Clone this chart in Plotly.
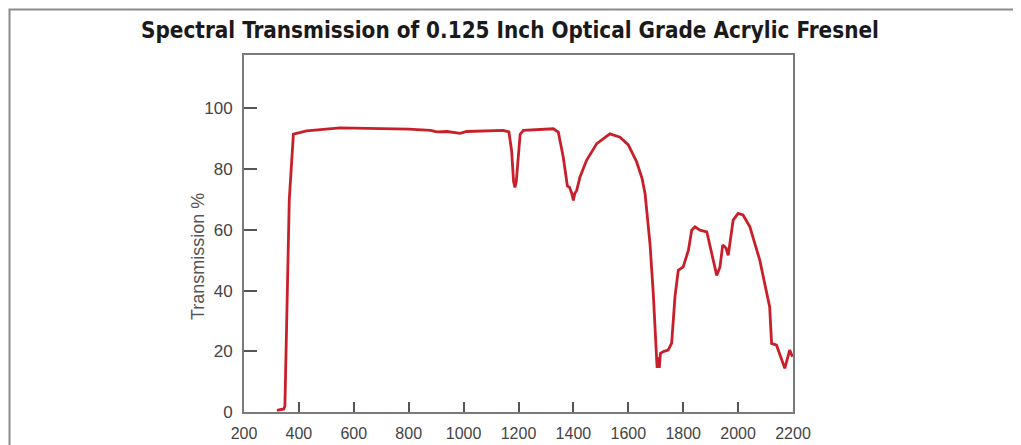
import plotly.graph_objects as go

wavelength = [320, 345, 349, 355, 365, 380, 428, 550, 695, 800, 880, 902, 940, 987, 1011, 1100, 1144,
              1165, 1175, 1182, 1187, 1192, 1199, 1206, 1218, 1327, 1345, 1363, 1378, 1386, 1394, 1400,
              1405, 1412, 1424, 1448, 1485, 1533, 1570, 1600, 1630, 1650, 1661, 1679, 1691, 1700, 1705,
              1709, 1713, 1717, 1730, 1745, 1758, 1770, 1782, 1800, 1819, 1831, 1843, 1861, 1886, 1904,
              1922, 1934, 1944, 1956, 1964, 1982, 2000, 2018, 2043, 2079, 2103, 2115, 2122, 2140, 2170,
              2188, 2198]
transmission = [0.5, 1, 2, 26, 70, 91.5, 92.6, 93.6, 93.4, 93.2, 92.8, 92.3, 92.4, 91.8, 92.4, 92.8, 92.8,
                92.3, 86, 76, 74, 76, 84, 91.5, 92.8, 93.3, 92.2, 84, 74.5, 74, 72, 69.7,
                72, 73, 77.4, 82.9, 88.4, 91.6, 90.5, 88, 82.5, 77, 72, 55.5, 39, 25, 14.5,
                18, 14.5, 19.3, 20, 20.4, 22.7, 37.9, 46.7, 47.8, 53.3, 59.9, 61, 59.9, 59.3, 52.2,
                45, 47.8, 55, 54, 51.6, 63.2, 65.4, 64.9, 61, 50, 40, 34.6, 22.6, 22, 14.4,
                20.4, 18.2]

x_ticks = [200, 400, 600, 800, 1000, 1200, 1400, 1600, 1800, 2000, 2200]
y_ticks = [0, 20, 40, 60, 80, 100]

title_text = "Spectral Transmission of 0.125 Inch Optical Grade Acrylic Fresnel"
y_title = "Transmission %"

fig = go.Figure()
fig.add_trace(go.Scatter(x=wavelength, y=transmission, mode="lines",
                         line=dict(color="#c8202a", width=2.8), showlegend=False))

axis_common = dict(showgrid=False, zeroline=False, showline=True, linecolor="#7a7a7a", linewidth=2,
                   mirror=True, ticks="inside", tickcolor="#555555", tickwidth=1.5, automargin=False)

fig.update_xaxes(range=[200, 2200], tickvals=x_ticks, ticklen=10, ticklabelstandoff=6,
                 tickfont=dict(family="Liberation Sans, Arial, sans-serif", size=16, color="#444444"),
                 **axis_common)
fig.update_yaxes(range=[0, 117.6], tickvals=y_ticks, ticklen=13, ticklabelstandoff=6,
                 tickfont=dict(family="Liberation Sans, Arial, sans-serif", size=17, color="#444444"),
                 **axis_common)

OFF = 8  # page body margin
L, R, T, B = 244 - OFF, 793 - OFF, 55 - OFF, 412 - OFF
W, H = 1021 - OFF, 445 - OFF
pw, ph = R - L, B - T

def px(x):
    return (x - OFF - L) / pw

def py(y):
    return (B - (y - OFF)) / ph

fig.add_annotation(text="<b>" + title_text + "</b>", x=px(510), y=py(30), xref="paper", yref="paper",
                   showarrow=False, xanchor="center", yanchor="middle",
                   font=dict(family="DejaVu Sans Condensed, Liberation Sans, Arial", size=22.3,
                             color="#1a1a1a"))
fig.add_annotation(text=y_title, x=px(198), y=py(257), xref="paper", yref="paper", showarrow=False,
                   textangle=-90, xanchor="center", yanchor="middle",
                   font=dict(family="Liberation Sans, Arial, sans-serif", size=18, color="#555555"))

fig.add_shape(type="rect", xref="paper", yref="paper", x0=px(9.5), x1=px(1016), y0=py(470), y1=py(9.5),
              line=dict(color="#8a8a8a", width=2), fillcolor="rgba(0,0,0,0)", layer="below")

fig.update_layout(width=W, height=H, margin=dict(l=L, r=W - R, t=T, b=H - B, autoexpand=False),
                  paper_bgcolor="white", plot_bgcolor="white")

fig.write_html("out.html")
